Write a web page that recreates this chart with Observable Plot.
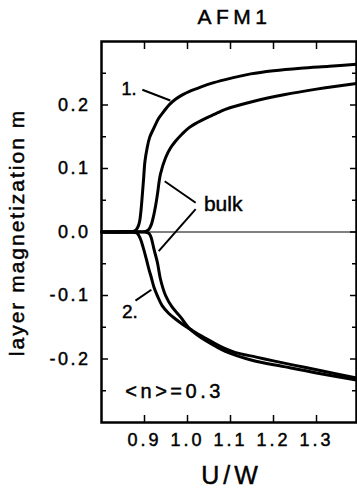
<!DOCTYPE html>
<html><head><meta charset="utf-8">
<script src="https://cdn.jsdelivr.net/npm/d3@7"></script>
<script src="https://cdn.jsdelivr.net/npm/@observablehq/plot@0.6"></script>
<style>html,body{margin:0;padding:0;background:#fff;} svg{display:block}</style>
</head><body><div id="chart"></div>
<script>
// ---- data ----
const layer1U = [0.80, 0.86, 0.874, 0.881, 0.886, 0.889, 0.892, 0.895, 0.898, 0.901, 0.906, 0.912, 0.922, 0.933, 0.945, 0.957, 0.972, 0.988, 1.006, 1.026, 1.055, 1.088, 1.147, 1.20, 1.263, 1.33, 1.393];
const layer1M = [0, 0, 0.001, 0.004, 0.010, 0.018, 0.035, 0.059, 0.085, 0.111, 0.132, 0.149, 0.164, 0.179, 0.190, 0.200, 0.209, 0.216, 0.222, 0.227, 0.234, 0.240, 0.249, 0.254, 0.258, 0.261, 0.264];

const bulkPosU = [0.80, 0.89, 0.903, 0.910, 0.916, 0.922, 0.926, 0.930, 0.937, 0.949, 0.960, 0.972, 0.987, 1.003, 1.022, 1.042, 1.065, 1.088, 1.15, 1.224, 1.30, 1.393];
const bulkPosM = [0, 0, 0.001, 0.004, 0.012, 0.028, 0.042, 0.059, 0.091, 0.117, 0.132, 0.143, 0.154, 0.164, 0.172, 0.179, 0.186, 0.193, 0.205, 0.216, 0.225, 0.234];

const layer2U = [0.80, 0.87, 0.883, 0.890, 0.898, 0.904, 0.910, 0.916, 0.922, 0.931, 0.941, 0.956, 0.972, 0.990, 1.011, 1.033, 1.057, 1.085, 1.112, 1.16, 1.20, 1.25, 1.30, 1.35, 1.393];
const layer2M = [0, 0, -0.002, -0.010, -0.027, -0.042, -0.058, -0.072, -0.087, -0.102, -0.116, -0.128, -0.137, -0.146, -0.155, -0.164, -0.173, -0.183, -0.190, -0.197, -0.203, -0.210, -0.217, -0.224, -0.230];

const bulkNegU = [0.80, 0.90, 0.910, 0.914, 0.918, 0.922, 0.930, 0.937, 0.949, 0.964, 0.984, 1.003, 1.022, 1.042, 1.065, 1.088, 1.15, 1.224, 1.30, 1.393];
const bulkNegM = [0, 0, -0.002, -0.006, -0.015, -0.027, -0.048, -0.074, -0.100, -0.118, -0.134, -0.151, -0.162, -0.171, -0.180, -0.188, -0.202, -0.212, -0.222, -0.233];

const xTicks = [0.9, 1.0, 1.1, 1.2, 1.3];
const xTickLabels = ["0.9", "1.0", "1.1", "1.2", "1.3"];
const yTicks = [-0.2, -0.1, 0, 0.1, 0.2];
const yTickLabels = ["-0.2", "-0.1", "0.0", "0.1", "0.2"];
const yMinorTicks = [-0.25, -0.15, -0.05, 0.05, 0.15, 0.25];

const titleText = "AFM1";
const xLabel = "U/W";
const yLabel = "layer magnetization m";

const annotText = ["1.", "bulk", "2.", "<n>=0.3"];
const annotU = [0.864, 1.083, 0.866, 0.970];
const annotM = [0.225, 0.043, -0.1255, -0.2506];

const leaderU1 = [0.895, 0.947, 1.019, 0.879];
const leaderM1 = [0.224, 0.080, 0.036, -0.108];
const leaderU2 = [0.960, 1.019, 0.933, 0.916];
const leaderM2 = [0.207, 0.046, -0.030, -0.091];

// ---- build ----
const series = [
  {name: "layer 1", u: layer1U, m: layer1M},
  {name: "bulk +", u: bulkPosU, m: bulkPosM},
  {name: "layer 2", u: layer2U, m: layer2M},
  {name: "bulk -", u: bulkNegU, m: bulkNegM}
];
const rows = series.flatMap(s => s.u.map((u, i) => ({series: s.name, u, m: s.m[i]})));
const leaders = leaderU1.map((u, i) => ({u1: u, m1: leaderM1[i], u2: leaderU2[i], m2: leaderM2[i]}));
const annots = annotText.map((t, i) => ({t, u: annotU[i], m: annotM[i], i}));
const annotSize = [18, 21, 19, 20];

const fmtX = d => xTickLabels[xTicks.indexOf(d)];
const fmtY = d => yTickLabels[yTicks.indexOf(d)];

const chart = Plot.plot({
  width: 357,
  height: 493,
  marginLeft: 101,
  marginRight: 1,
  marginTop: 41,
  marginBottom: 71,
  x: {domain: [0.8, 1.393], axis: null},
  y: {domain: [-0.3, 0.3], axis: null},
  style: {fontFamily: "'Liberation Sans', Arial, Helvetica, sans-serif", background: "#fff", color: "#000"},
  marks: [
    Plot.ruleY([0], {stroke: "#000", strokeWidth: 1}),
    Plot.line(rows, {x: "u", y: "m", z: "series", stroke: "#000", strokeWidth: 3, curve: "catmull-rom", strokeLinejoin: "round"}),
    Plot.link(leaders, {x1: "u1", y1: "m1", x2: "u2", y2: "m2", stroke: "#000", strokeWidth: 2}),
    ...annots.map(a => Plot.text([a], {x: "u", y: "m", text: "t", fontSize: annotSize[a.i], fill: "#000", textAnchor: "middle", lineAnchor: "middle", ariaDescription: "annot" + a.i})),
    Plot.frame({stroke: "#000", strokeWidth: 2.5}),
    // ticks (inward)
    Plot.axisX(xTicks, {anchor: "bottom", tickSize: -7, fill: "none", strokeWidth: 1.5, label: null}),
    Plot.axisX(xTicks, {anchor: "top", tickSize: -7, fill: "none", strokeWidth: 1.5, label: null}),
    Plot.axisY(yTicks, {anchor: "left", tickSize: -7, fill: "none", strokeWidth: 1.5, label: null}),
    Plot.axisY(yTicks, {anchor: "right", tickSize: -7, fill: "none", strokeWidth: 1.5, label: null}),
    Plot.axisY(yMinorTicks, {anchor: "left", tickSize: -5, fill: "none", strokeWidth: 1.5, label: null}),
    Plot.axisY(yMinorTicks, {anchor: "right", tickSize: -5, fill: "none", strokeWidth: 1.5, label: null}),
    // tick labels
    Plot.text(xTicks, {x: d => d, frameAnchor: "bottom", textAnchor: "middle", lineAnchor: "top", dy: 11, text: fmtX, fontSize: 18, fill: "#000", ariaDescription: "xtick"}),
    Plot.text(yTicks, {y: d => d, frameAnchor: "left", textAnchor: "end", lineAnchor: "middle", dx: -11, text: fmtY, fontSize: 18, fill: "#000", ariaDescription: "ytick"}),
    // titles
    Plot.text([titleText], {frameAnchor: "top", textAnchor: "middle", lineAnchor: "middle", text: d => d, dy: -24.4, dx: 5.5, fontSize: 21, fill: "#000", ariaDescription: "title"}),
    Plot.text([xLabel], {frameAnchor: "bottom", textAnchor: "middle", lineAnchor: "middle", text: d => d, dy: 53, dx: 2.5, fontSize: 25, fill: "#000", ariaDescription: "xlabel"}),
    Plot.text([yLabel], {frameAnchor: "left", textAnchor: "middle", lineAnchor: "middle", text: d => d, rotate: -90, dx: -84.4, dy: 0.5, fontSize: 21, fill: "#000", ariaDescription: "ylabel"})
  ]
});

const spacing = {title: 4.5, xlabel: 4, ylabel: 2, xtick: 3, ytick: 2.5, annot3: 3.5};
for (const [k, s] of Object.entries(spacing)) {
  chart.querySelectorAll(`[aria-description="${k}"] text`).forEach(t => t.style.letterSpacing = s + "px");
}
// slightly heavier glyphs, like the scanned original
chart.querySelectorAll("text").forEach(t => { t.style.stroke = "#000"; t.style.strokeWidth = "0.45px"; });
document.getElementById("chart").appendChild(chart);
</script>
</body></html>
